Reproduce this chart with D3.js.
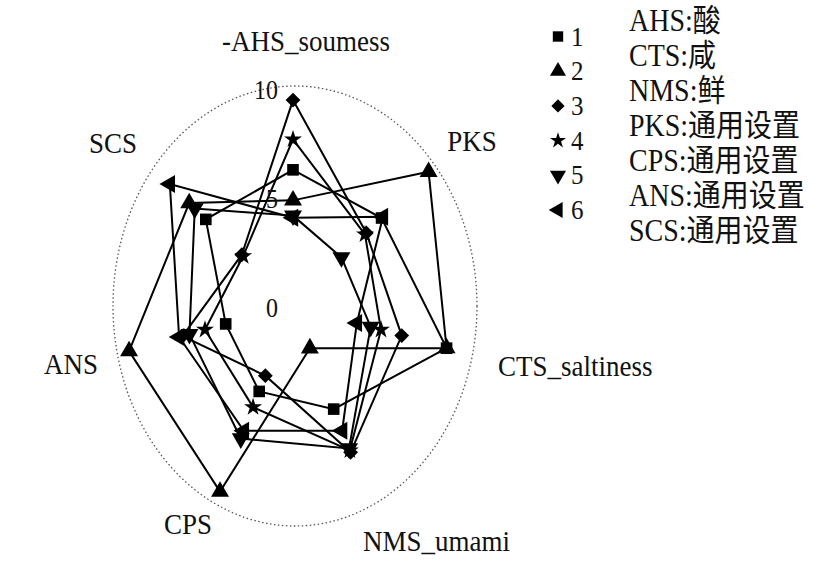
<!DOCTYPE html>
<html>
<head>
<meta charset="utf-8">
<script src="https://cdn.jsdelivr.net/npm/d3@7"></script>
<style>
body { margin: 0; background: #fff; }
text { font-family: "Liberation Serif", "Times New Roman", "Noto Sans CJK SC", serif; fill: #111; }
</style>
</head>
<body>
<div id="chart"></div>
<script>
// radar axes, clockwise from the top
const axes = ['-AHS_soumess', 'PKS', 'CTS_saltiness', 'NMS_umami', 'CPS', 'ANS', 'SCS'];
const seriesNames = ['1', '2', '3', '4', '5', '6'];
const s1 = [6.2, 6.4, 8.9, 5.3, 4.4, 3.9, 6.3];
const s2 = [4.8, 9.8, 8.9, 2.2, 9.5, 9.5, 7.5];
const s3 = [9.4, 5.3, 6.3, 7.5, 3.6, 6.4, 3.7];
const s4 = [7.6, 5.2, 5.1, 7.4, 5.2, 5.1, 3.6];
const s5 = [4.1, 3.5, 4.5, 7.3, 6.8, 6.0, 7.1];
const s6 = [4.0, 6.5, 3.7, 6.4, 6.4, 6.6, 8.9];
const tickValues = [0, 5, 10];
const notes = ['AHS:酸', 'CTS:咸', 'NMS:鲜', 'PKS:通用设置', 'CPS:通用设置', 'ANS:通用设置', 'SCS:通用设置'];

const series = [s1, s2, s3, s4, s5, s6];

const width = 830, height = 572;
const cx = 293, cy = 305;
const stretch = 1.1; // text in the source is a little taller than wide

const svg = d3.select('#chart').append('svg').attr('width', width).attr('height', height);

const angle = d3.scaleLinear().domain([0, axes.length]).range([0, 2 * Math.PI]);
const rx = d3.scaleLinear().domain([0, 10]).range([0, 177]);
const ry = d3.scaleLinear().domain([0, 10]).range([0, 218]);
const pos = (v, i) => [cx + rx(v) * Math.sin(angle(i)), cy - ry(v) * Math.cos(angle(i))];

// marker shapes: square, up, diamond, star, down, left
const shapes = [
    { type: d3.symbolSquare, size: 135, rot: 0 },
    { type: d3.symbolTriangle, size: 140, rot: 0 },
    { type: d3.symbolSquare, size: 110, rot: 45 },
    { type: d3.symbolStar, size: 100, rot: 0 },
    { type: d3.symbolTriangle, size: 140, rot: 180 },
    { type: d3.symbolTriangle, size: 140, rot: -90 }
];

// outer dotted ring
svg.append('ellipse').attr('cx', 295).attr('cy', 306).attr('rx', 182).attr('ry', 220)
    .attr('fill', 'none').attr('stroke', '#555').attr('stroke-width', 1.3)
    .attr('stroke-dasharray', '1.5,2.5');

const line = d3.line().curve(d3.curveLinearClosed);

svg.append('g').selectAll('path').data(series).enter().append('path')
    .attr('d', d => line(d.map((v, i) => pos(v, i))))
    .attr('fill', 'none').attr('stroke', '#000').attr('stroke-width', 2);

series.forEach((d, k) => {
    const sh = shapes[k];
    svg.append('g').selectAll('path').data(d).enter().append('path')
        .attr('d', d3.symbol().type(sh.type).size(sh.size))
        .attr('transform', (v, i) => `translate(${pos(v, i)}) rotate(${sh.rot})`)
        .attr('fill', '#000');
});

// value labels along the top axis
svg.append('g').selectAll('text').data(tickValues).enter().append('text')
    .attr('transform', d => `translate(${cx - 15}, ${cy - ry(d) + 12}) scale(1, ${stretch})`)
    .attr('text-anchor', 'end').attr('font-size', 24)
    .text(d => d);

// axis titles: offset from the centre and anchor
const labelLayout = [
    [13, -254, 'middle'], [179, -154, 'middle'], [205, 71, 'start'], [70, 246, 'start'],
    [-105, 229, 'middle'], [-195, 69, 'end'], [-180, -152, 'middle']
];
svg.append('g').selectAll('text').data(axes).enter().append('text')
    .attr('transform', (d, i) => `translate(${cx + labelLayout[i][0]}, ${cy + labelLayout[i][1]}) scale(1, ${stretch})`)
    .attr('text-anchor', (d, i) => labelLayout[i][2])
    .attr('font-size', 27)
    .text(d => d);

// legend
const legend = svg.append('g').selectAll('g').data(seriesNames).enter().append('g')
    .attr('transform', (d, i) => `translate(558, ${36.5 + i * 34.7})`);
legend.append('path')
    .attr('d', (d, i) => d3.symbol().type(shapes[i].type).size(shapes[i].size * 0.8)())
    .attr('transform', (d, i) => `rotate(${shapes[i].rot})`)
    .attr('fill', '#000');
legend.append('text')
    .attr('transform', `translate(13, 9) scale(1, ${stretch})`)
    .attr('font-size', 25).text(d => d);

svg.append('g').selectAll('text').data(notes).enter().append('text')
    .attr('transform', (d, i) => `translate(629, ${31 + i * 35}) scale(1, ${stretch})`)
    .attr('font-size', 28)
    .text(d => d);
</script>
</body>
</html>
